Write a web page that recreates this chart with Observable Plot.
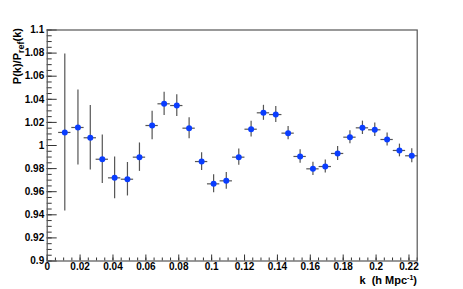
<!DOCTYPE html>
<html><head><meta charset="utf-8">
<script src="https://cdn.jsdelivr.net/npm/d3@7"></script>
<script src="https://cdn.jsdelivr.net/npm/@observablehq/plot@0.6"></script>
<style>body{margin:0;background:#fff}</style>
</head><body><div id="chart"></div>
<script>
const kValues = [0.0107, 0.0187, 0.0262, 0.0335, 0.0410, 0.0488, 0.0561, 0.0638, 0.0711, 0.0788,
  0.0863, 0.0939, 0.1012, 0.1089, 0.1165, 0.1240, 0.1315, 0.1390, 0.1465, 0.1538,
  0.1616, 0.1691, 0.1766, 0.1841, 0.1917, 0.1992, 0.2067, 0.2142, 0.2217];
const ratioValues = [1.0113, 1.0156, 1.0067, 0.9881, 0.9720, 0.9708, 0.9899, 1.0173, 1.0361, 1.0346,
  1.0150, 0.9861, 0.9668, 0.9694, 0.9899, 1.0141, 1.0283, 1.0268, 1.0107, 0.9905,
  0.9798, 0.9818, 0.9931, 1.0072, 1.0153, 1.0136, 1.0052, 0.9957, 0.9911];
const ratioErrors = [0.0680, 0.0325, 0.0280, 0.0210, 0.0180, 0.0145, 0.0123, 0.0123, 0.0101, 0.0094,
  0.0091, 0.0077, 0.0078, 0.0072, 0.0070, 0.0068, 0.0065, 0.0069, 0.0058, 0.0058,
  0.0058, 0.0056, 0.0060, 0.0056, 0.0058, 0.0058, 0.0056, 0.0055, 0.0060];
const binHalfWidth = 0.00375;
const xTicks = [0, 0.02, 0.04, 0.06, 0.08, 0.10, 0.12, 0.14, 0.16, 0.18, 0.20, 0.22];
const xTickLabels = ["0", "0.02", "0.04", "0.06", "0.08", "0.1", "0.12", "0.14", "0.16", "0.18", "0.2", "0.22"];
const yTicks = [0.90, 0.92, 0.94, 0.96, 0.98, 1.00, 1.02, 1.04, 1.06, 1.08, 1.10];
const yTickLabels = ["0.9", "0.92", "0.94", "0.96", "0.98", "1", "1.02", "1.04", "1.06", "1.08", "1.1"];
const xDomain = [0, 0.225];
const yDomain = [0.9, 1.1];

const data = kValues.map((k, i) => ({k, v: ratioValues[i], e: ratioErrors[i]}));
const xMinor = d3.range(0, 0.2251, 0.005);
const yMinor = d3.range(0.9, 1.1001, 0.005);

const W = 463, H = 289, mL = 46.7, mR = 46.3, mT = 29.5, mB = 28.5;
const fw = W - mL - mR, fh = H - mT - mB;
const axisColor = "#333";

const plot = Plot.plot({
  width: W, height: H,
  marginLeft: mL, marginRight: mR, marginTop: mT, marginBottom: mB,
  style: {fontFamily: "'Liberation Sans', Arial, sans-serif", fontSize: "10px", fontWeight: "bold", background: "white", color: "#000", overflow: "visible"},
  x: {domain: xDomain},
  y: {domain: yDomain},
  marks: [
    Plot.tickX(xMinor, {x: d => d, insetTop: fh - 3, stroke: axisColor}),
    Plot.tickX(xTicks, {x: d => d, insetTop: fh - 6, stroke: axisColor}),
    Plot.tickY(yMinor, {y: d => d, insetRight: fw - 5, stroke: axisColor}),
    Plot.tickY(yTicks, {y: d => d, insetRight: fw - 10, stroke: axisColor}),
    Plot.axisX({ticks: xTicks, tickFormat: d => xTickLabels[xTicks.indexOf(d)], tickSize: 0, tickPadding: 2, label: null}),
    Plot.axisY({ticks: yTicks, tickFormat: d => yTickLabels[yTicks.indexOf(d)], tickSize: 0, tickPadding: 3, label: null}),
    Plot.frame({stroke: "#555", strokeWidth: 1.2}),
    Plot.ruleX(data, {x: "k", y1: d => d.v - d.e, y2: d => d.v + d.e, stroke: "#555", strokeWidth: 1.2}),
    Plot.ruleY(data, {y: "v", x1: d => d.k - binHalfWidth, x2: d => d.k + binHalfWidth, stroke: "#555", strokeWidth: 1.2}),
    Plot.dot(data, {x: "k", y: "v", r: 3, fill: "#0a3dff", stroke: "none"})
  ]
});

const svg = d3.select(plot);
const yt = svg.append("text")
  .attr("transform", "translate(20.5,28) rotate(-90)")
  .attr("text-anchor", "end")
  .attr("font-size", 11).attr("font-weight", "bold")
  .attr("font-family", "'Liberation Sans', Arial, sans-serif");
yt.append("tspan").text("P(k)/P");
yt.append("tspan").attr("font-size", 9).attr("dy", 3).text("ref");
yt.append("tspan").attr("dy", -3).text("(k)");

const xt = svg.append("text")
  .attr("x", 417).attr("y", 284)
  .attr("text-anchor", "end")
  .attr("font-size", 11).attr("font-weight", "bold")
  .attr("font-family", "'Liberation Sans', Arial, sans-serif")
  .style("white-space", "pre");
xt.append("tspan").text("k  (h Mpc");
xt.append("tspan").attr("font-size", 7).attr("dy", -4).text("-1");
xt.append("tspan").attr("dy", 4).text(")");

document.getElementById("chart").appendChild(plot);
</script>
</body></html>
